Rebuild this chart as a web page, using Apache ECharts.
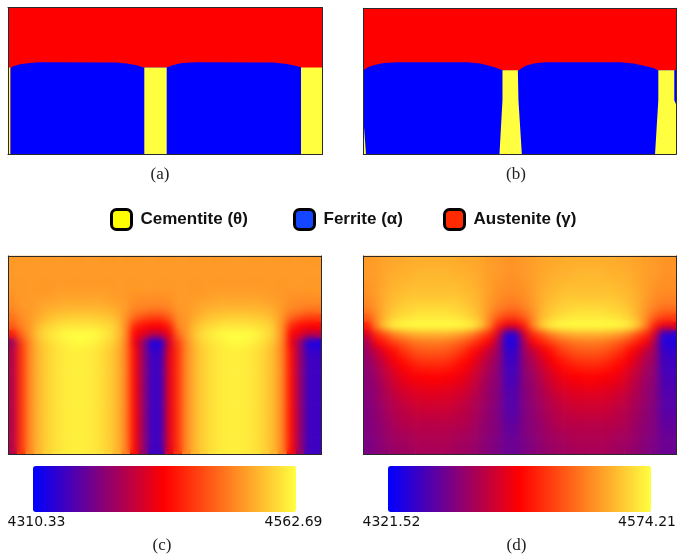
<!DOCTYPE html>
<html>
<head>
<meta charset="utf-8">
<script src="https://cdn.jsdelivr.net/npm/echarts@6/dist/echarts.min.js"></script>
<style>
html,body{margin:0;padding:0;background:#ffffff;}
#wrap{position:relative;width:679px;height:555px;}
#chart{position:absolute;left:0;top:0;width:679px;height:555px;}
.smooth{position:absolute;pointer-events:none;-webkit-backdrop-filter:blur(3.5px);backdrop-filter:blur(3.5px);}
</style>
</head>
<body>
<div id="wrap">
<div id="chart"></div>
<div class="smooth" style="left:9px;top:257px;width:312px;height:196px;"></div>
<div class="smooth" style="left:364px;top:257px;width:312px;height:196px;"></div>
</div>
<script>
// ================= DATA =================
const phaseNames = ['Cementite (θ)', 'Ferrite (α)', 'Austenite (γ)'];
const phaseColors = ['#ffff40', '#0000ff', '#ff0000'];
const legendSwatchColors = ['#ffff00', '#1446ff', '#ff2a00'];
const captionTexts = ['(a)', '(b)', '(c)', '(d)'];

// Panel (a) phase map: domain [width, height] in grid units, interfaces
const aDomain = [314, 147];
const aAusteniteTop = [[0, 147], [314, 147]];
const aFerriteTop = [[2.3, 86.6], [5.3, 88.3], [12, 90.3], [22, 91.6], [30.3, 92.3], [108.7, 92], [118.7, 91], [128.7, 89.3], [135.3, 87], [136.3, 87], [158.7, 87], [165.3, 89.6], [173.7, 91.6], [188.7, 92.3], [265.3, 92], [278.7, 90.6], [288.7, 88.6], [293, 87]];
const aCementite0 = [[0, 87], [2.3, 87]];
const aCementite1 = [[136.3, 87], [158.7, 87]];
const aCementite2 = [[293, 87], [314, 87]];

// Panel (b) phase map
const bDomain = [313, 146];
const bAusteniteTop = [[0, 146], [313, 146]];
const bFerriteTop = [[0, 84], [0.3, 84], [5.3, 87.3], [10.3, 89], [20.3, 91.3], [33.7, 92], [103.7, 92], [117, 90.7], [127, 88.3], [133.7, 86.3], [139.3, 84], [154.7, 83.3], [158.7, 86.3], [163.7, 89], [173.7, 91.3], [183.7, 92], [257, 92], [270.3, 90.7], [282, 88.3], [290.3, 86.3], [295.3, 84], [313, 84]];
const bCementite0 = [[0, 37.3], [1.5, 37.3], [2.7, 0]];
const bCementite1 = [[136.3, 0], [139.3, 54], [139.3, 84], [154.7, 84], [155.3, 54], [158.7, 0]];
const bCementite2 = [[292, 0], [295.3, 54], [295.3, 84], [311.3, 84], [311.3, 54], [313, 50]];

// Panel (c) field (rows top -> bottom, 36 columns), colour bar range
const cRange = [4310.33, 4562.69];
const cBarLabels = ['4310.33', '4562.69'];
const cTopRow = [4512,4512,4512,4512,4512,4512,4512,4512,4512,4512,4512,4512,4512,4512,4512,4512,4512,4512,4512,4512,4512,4512,4512,4512,4512,4512,4512,4512,4512,4512,4512,4512,4512,4512,4512,4512];
const cLowerRow = [4399,4462,4505,4527,4540,4548,4553,4555,4555,4553,4548,4540,4527,4502,4442,4386,4341,4341,4424,4462,4505,4527,4540,4548,4553,4555,4555,4553,4548,4540,4527,4502,4442,4386,4341,4341];
const cField = [
  cTopRow, cTopRow, cTopRow, cTopRow,
  [4510,4512,4512,4512,4512,4515,4515,4515,4515,4515,4515,4515,4512,4512,4510,4510,4510,4510,4510,4512,4512,4512,4512,4515,4515,4515,4515,4515,4515,4515,4512,4512,4510,4510,4510,4510],
  [4507,4512,4512,4515,4517,4517,4520,4520,4520,4520,4520,4517,4515,4512,4507,4505,4505,4505,4507,4512,4512,4515,4517,4517,4520,4520,4520,4520,4520,4517,4515,4512,4507,4505,4505,4505],
  [4502,4510,4512,4517,4522,4525,4527,4527,4527,4527,4527,4525,4520,4512,4502,4500,4495,4495,4500,4510,4512,4517,4522,4525,4527,4527,4527,4527,4527,4525,4520,4512,4502,4500,4495,4495],
  [4492,4507,4512,4522,4530,4535,4537,4540,4540,4540,4537,4535,4527,4510,4487,4474,4467,4467,4482,4507,4512,4522,4530,4535,4537,4540,4540,4540,4537,4535,4527,4510,4487,4474,4467,4467],
  [4482,4502,4512,4530,4540,4545,4550,4550,4550,4550,4548,4545,4535,4507,4457,4442,4437,4437,4452,4502,4512,4530,4540,4545,4550,4550,4550,4550,4548,4545,4535,4507,4457,4442,4437,4437],
  [4449,4487,4512,4535,4548,4555,4560,4562,4562,4562,4558,4550,4537,4507,4437,4424,4406,4406,4431,4487,4512,4535,4548,4555,4560,4562,4562,4562,4558,4550,4537,4507,4437,4424,4406,4406],
  [4386,4467,4505,4530,4543,4550,4555,4560,4560,4558,4553,4545,4532,4502,4431,4386,4323,4323,4416,4467,4505,4530,4543,4550,4555,4560,4560,4558,4553,4545,4532,4502,4431,4386,4323,4323],
  [4399,4462,4505,4527,4540,4548,4553,4555,4555,4553,4548,4540,4527,4502,4442,4386,4336,4336,4424,4462,4505,4527,4540,4548,4553,4555,4555,4553,4548,4540,4527,4502,4442,4386,4336,4336],
  cLowerRow, cLowerRow, cLowerRow, cLowerRow, cLowerRow, cLowerRow,
  cLowerRow, cLowerRow, cLowerRow, cLowerRow, cLowerRow, cLowerRow
];

// Panel (d) field
const dRange = [4321.52, 4574.21];
const dBarLabels = ['4321.52', '4574.21'];
const dField = [
  [4524,4526,4529,4531,4531,4534,4534,4534,4534,4534,4534,4531,4531,4529,4526,4524,4521,4521,4524,4526,4529,4531,4531,4534,4534,4534,4534,4534,4534,4531,4531,4529,4526,4524,4521,4521],
  [4524,4526,4529,4531,4534,4534,4536,4536,4536,4536,4534,4534,4531,4529,4526,4524,4521,4521,4524,4526,4529,4531,4534,4534,4536,4536,4536,4536,4534,4534,4531,4529,4526,4524,4521,4521],
  [4524,4526,4531,4534,4536,4536,4539,4539,4539,4539,4536,4536,4534,4531,4526,4524,4519,4519,4524,4526,4531,4534,4536,4536,4539,4539,4539,4539,4536,4536,4534,4531,4526,4524,4519,4519],
  [4521,4526,4531,4536,4539,4541,4541,4541,4541,4541,4541,4539,4536,4531,4526,4521,4519,4519,4521,4526,4531,4536,4539,4541,4541,4541,4541,4541,4541,4539,4536,4531,4526,4521,4519,4519],
  [4519,4526,4534,4539,4541,4544,4544,4544,4544,4544,4544,4541,4539,4534,4526,4519,4516,4516,4519,4526,4534,4539,4541,4544,4544,4544,4544,4544,4544,4541,4539,4534,4526,4519,4516,4516],
  [4516,4524,4534,4541,4546,4549,4549,4549,4549,4549,4549,4546,4541,4534,4524,4516,4511,4511,4516,4524,4534,4541,4546,4549,4549,4549,4549,4549,4549,4546,4541,4534,4524,4516,4511,4511],
  [4509,4521,4536,4546,4551,4554,4557,4557,4557,4557,4554,4551,4546,4536,4521,4509,4501,4501,4509,4521,4536,4546,4551,4554,4557,4557,4557,4557,4554,4551,4546,4536,4521,4509,4501,4501],
  [4493,4516,4539,4551,4559,4562,4564,4564,4564,4564,4562,4559,4551,4539,4516,4493,4478,4478,4493,4516,4539,4551,4559,4562,4564,4564,4564,4564,4562,4559,4551,4539,4516,4493,4478,4478],
  [4461,4511,4549,4567,4572,4574,4574,4574,4574,4574,4574,4572,4567,4549,4511,4461,4438,4438,4461,4511,4549,4567,4572,4574,4574,4574,4574,4574,4574,4572,4567,4549,4511,4461,4438,4438],
  [4428,4468,4488,4511,4524,4531,4536,4536,4536,4536,4531,4524,4511,4488,4468,4428,4342,4342,4428,4468,4488,4511,4524,4531,4536,4536,4536,4536,4531,4524,4511,4488,4468,4428,4342,4342],
  [4405,4445,4461,4478,4491,4501,4506,4509,4509,4506,4501,4491,4478,4461,4445,4405,4339,4339,4405,4445,4461,4478,4491,4501,4506,4509,4509,4506,4501,4491,4478,4461,4445,4405,4339,4339],
  [4400,4418,4440,4455,4473,4483,4491,4493,4493,4491,4483,4473,4455,4440,4418,4400,4347,4347,4400,4418,4440,4455,4473,4483,4491,4493,4493,4491,4483,4473,4455,4440,4418,4400,4347,4347],
  [4395,4410,4428,4445,4458,4468,4476,4478,4478,4476,4468,4458,4445,4428,4410,4395,4352,4352,4395,4410,4428,4445,4458,4468,4476,4478,4478,4476,4468,4458,4445,4428,4410,4395,4352,4352],
  [4392,4405,4420,4435,4448,4455,4461,4463,4463,4461,4455,4448,4435,4420,4405,4392,4354,4354,4392,4405,4420,4435,4448,4455,4461,4463,4463,4461,4455,4448,4435,4420,4405,4392,4354,4354],
  [4390,4400,4415,4428,4438,4445,4448,4450,4450,4448,4445,4438,4428,4415,4400,4390,4357,4357,4390,4400,4415,4428,4438,4445,4448,4450,4450,4448,4445,4438,4428,4415,4400,4390,4357,4357],
  [4390,4397,4410,4423,4433,4438,4440,4443,4443,4440,4438,4433,4423,4410,4397,4390,4359,4359,4390,4397,4410,4423,4433,4438,4440,4443,4443,4440,4438,4433,4423,4410,4397,4390,4359,4359],
  [4387,4395,4407,4418,4425,4430,4433,4435,4435,4433,4430,4425,4418,4407,4395,4387,4362,4362,4387,4395,4407,4418,4425,4430,4433,4435,4435,4433,4430,4425,4418,4407,4395,4387,4362,4362],
  [4387,4395,4405,4412,4420,4425,4428,4428,4428,4428,4425,4420,4412,4405,4395,4387,4364,4364,4387,4395,4405,4412,4420,4425,4428,4428,4428,4428,4425,4420,4412,4405,4395,4387,4364,4364],
  [4385,4392,4402,4410,4415,4420,4423,4423,4423,4423,4420,4415,4410,4402,4392,4385,4364,4364,4385,4392,4402,4410,4415,4420,4423,4423,4423,4423,4420,4415,4410,4402,4392,4385,4364,4364],
  [4385,4392,4400,4407,4412,4415,4418,4418,4418,4418,4415,4412,4407,4400,4392,4385,4367,4367,4385,4392,4400,4407,4412,4415,4418,4418,4418,4418,4415,4412,4407,4400,4392,4385,4367,4367],
  [4385,4390,4397,4405,4410,4412,4412,4412,4412,4412,4412,4410,4405,4397,4390,4385,4370,4370,4385,4390,4397,4405,4410,4412,4412,4412,4412,4412,4412,4410,4405,4397,4390,4385,4370,4370],
  [4385,4390,4395,4402,4405,4407,4410,4410,4410,4410,4407,4405,4402,4395,4390,4385,4372,4372,4385,4390,4395,4402,4405,4407,4410,4410,4410,4410,4407,4405,4402,4395,4390,4385,4372,4372],
  [4382,4387,4395,4400,4402,4405,4407,4407,4407,4407,4405,4402,4400,4395,4387,4382,4375,4375,4382,4387,4395,4400,4402,4405,4407,4407,4407,4407,4405,4402,4400,4395,4387,4382,4375,4375],
  [4382,4387,4392,4397,4400,4402,4405,4405,4405,4405,4402,4400,4397,4392,4387,4382,4375,4375,4382,4387,4392,4397,4400,4402,4405,4405,4405,4405,4402,4400,4397,4392,4387,4382,4375,4375]
];

const colormap = ['#0000ff', '#ff0000', '#ffff40'];

// ================= BUILD =================
const fieldCols = cField[0].map((_, i) => String(i));
const fieldRows = cField.map((_, j) => String(j));
function toCells(rows) {
  const out = [];
  rows.forEach((row, j) => row.forEach((v, i) => out.push([i, j, v])));
  return out;
}

const frameLine = { show: true, onZero: false, lineStyle: { color: '#2a2a2a', width: 1 } };
function valueFrameAxis(gridIndex, position, min, max) {
  return { gridIndex, position, type: 'value', min, max, axisLine: frameLine,
    axisTick: { show: false }, axisLabel: { show: false }, splitLine: { show: false }, z: 10, silent: true };
}
function catFrameAxis(gridIndex, position, data, inverse) {
  return { gridIndex, position, type: 'category', data, inverse: !!inverse, axisLine: frameLine,
    axisTick: { show: false }, axisLabel: { show: false }, splitLine: { show: false }, z: 10, silent: true };
}
function barAxis(gridIndex, range, labels) {
  return { gridIndex, type: 'value', min: range[0], max: range[1], position: 'bottom',
    axisLine: { show: false }, axisTick: { show: false }, splitLine: { show: false },
    axisLabel: { show: true, customValues: range, showMinLabel: true, showMaxLabel: true, hideOverlap: false,
      formatter: v => (Math.abs(v - range[0]) < 1e-6 ? labels[0] : (Math.abs(v - range[1]) < 1e-6 ? labels[1] : '')),
      fontFamily: 'DejaVu Sans', fontSize: 14, color: '#111', margin: 3 } };
}
function hiddenAxis(gridIndex) {
  return { gridIndex, type: 'value', min: 0, max: 1, show: false };
}

const grids = [
  { left: 8, top: 7.5, width: 314, height: 147 },     // a
  { left: 363.3, top: 8.3, width: 312.7, height: 146 }, // b
  { left: 8.3, top: 256, width: 313.4, height: 198 },   // c
  { left: 363.3, top: 256, width: 313.4, height: 198 }, // d
  { left: 36.5, top: 466, width: 257, height: 46 },     // c colour-bar labels
  { left: 391.5, top: 466, width: 257, height: 46 }     // d colour-bar labels
];

const xAxes = [
  valueFrameAxis(0, 'bottom', 0, aDomain[0]), valueFrameAxis(0, 'top', 0, aDomain[0]),
  valueFrameAxis(1, 'bottom', 0, bDomain[0]), valueFrameAxis(1, 'top', 0, bDomain[0]),
  catFrameAxis(2, 'bottom', fieldCols), valueFrameAxis(2, 'top', 0, 1),
  catFrameAxis(3, 'bottom', fieldCols), valueFrameAxis(3, 'top', 0, 1),
  barAxis(4, cRange, cBarLabels), barAxis(5, dRange, dBarLabels)
];
const yAxes = [
  valueFrameAxis(0, 'left', 0, aDomain[1]), valueFrameAxis(0, 'right', 0, aDomain[1]),
  valueFrameAxis(1, 'left', 0, bDomain[1]), valueFrameAxis(1, 'right', 0, bDomain[1]),
  catFrameAxis(2, 'left', fieldRows, true), valueFrameAxis(2, 'right', 0, 1),
  catFrameAxis(3, 'left', fieldRows, true), valueFrameAxis(3, 'right', 0, 1),
  hiddenAxis(4), hiddenAxis(5)
];

function area(panel, phaseIdx, data) {
  const color = phaseColors[phaseIdx];
  return { type: 'line', name: phaseNames[phaseIdx], xAxisIndex: panel * 2, yAxisIndex: panel * 2,
    data, symbol: 'none', showSymbol: false, smooth: false, silent: true, clip: true,
    lineStyle: { width: 0, color }, itemStyle: { color }, areaStyle: { color, opacity: 1 } };
}

const series = [
  area(0, 2, aAusteniteTop), area(0, 1, aFerriteTop),
  area(0, 0, aCementite0), area(0, 0, aCementite1), area(0, 0, aCementite2),
  area(1, 2, bAusteniteTop), area(1, 1, bFerriteTop),
  area(1, 0, bCementite0), area(1, 0, bCementite1), area(1, 0, bCementite2),
  { type: 'heatmap', name: 'field c', xAxisIndex: 4, yAxisIndex: 4, data: toCells(cField),
    progressive: 0, silent: true, itemStyle: { borderWidth: 0 }, emphasis: { disabled: true } },
  { type: 'heatmap', name: 'field d', xAxisIndex: 6, yAxisIndex: 6, data: toCells(dField),
    progressive: 0, silent: true, itemStyle: { borderWidth: 0 }, emphasis: { disabled: true } }
];

const legendLefts = [110, 293, 443];
const legends = phaseNames.map((name, i) => ({
  data: [{ name, itemStyle: { color: legendSwatchColors[i], borderColor: '#000', borderWidth: 3 } }],
  left: legendLefts[i], top: 208, padding: 0, itemWidth: 20, itemHeight: 20, icon: 'roundRect',
  selectedMode: false,
  textStyle: { fontFamily: 'Liberation Sans', fontWeight: 'bold', fontSize: 17, color: '#111', padding: [0, 0, 0, 4] }
}));

const visualMaps = [
  { type: 'continuous', seriesIndex: 10, min: cRange[0], max: cRange[1], orient: 'horizontal',
    left: 33, top: 466, itemWidth: 46, itemHeight: 263, padding: 0, calculable: false, text: null,
    inRange: { color: colormap }, hoverLink: false },
  { type: 'continuous', seriesIndex: 11, min: dRange[0], max: dRange[1], orient: 'horizontal',
    left: 388, top: 466, itemWidth: 46, itemHeight: 263, padding: 0, calculable: false, text: null,
    inRange: { color: colormap }, hoverLink: false }
];

const captionPos = [[160, 175], [516, 175], [162, 546], [516.5, 546]];
const graphics = captionTexts.map((t, i) => ({
  type: 'text', x: captionPos[i][0], y: captionPos[i][1], silent: true,
  style: { text: t, fontFamily: 'Liberation Serif', fontSize: 17, fill: '#222', align: 'center', verticalAlign: 'middle' }
}));

const chart = echarts.init(document.getElementById('chart'));
chart.setOption({
  animation: false,
  backgroundColor: '#ffffff',
  grid: grids,
  xAxis: xAxes,
  yAxis: yAxes,
  legend: legends,
  visualMap: visualMaps,
  graphic: graphics,
  series
});
</script>
</body>
</html>
